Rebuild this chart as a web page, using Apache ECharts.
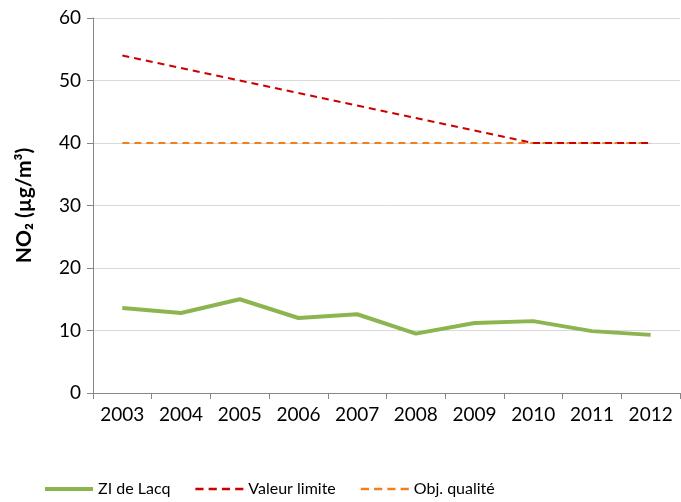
<!DOCTYPE html>
<html>
<head>
<meta charset="utf-8">
<script src="https://cdn.jsdelivr.net/npm/echarts@6/dist/echarts.min.js"></script>
<style>
  html, body { margin: 0; padding: 0; background: #fff; }
  #chart { width: 681px; height: 502px; }
</style>
</head>
<body>
<div id="chart"></div>
<script>
var years = ['2003', '2004', '2005', '2006', '2007', '2008', '2009', '2010', '2011', '2012'];
var lacq = [13.6, 12.8, 15.0, 12.0, 12.6, 9.5, 11.2, 11.5, 9.9, 9.3];
var valeurLimite = [54, 52, 50, 48, 46, 44, 42, 40, 40, 40];
var objQualite = [40, 40, 40, 40, 40, 40, 40, 40, 40, 40];

var font = 'Lato, "Open Sans", sans-serif';
var chart = echarts.init(document.getElementById('chart'));

// legend icons: solid bar and 4 dashes
var solidIcon = 'path://M0,0 L48,0 L48,4 L0,4 Z';
var dashIcon = 'path://M0,0 h8 v2.4 h-8 Z M13,0 h8 v2.4 h-8 Z M26,0 h8 v2.4 h-8 Z M39,0 h8 v2.4 h-8 Z';

var option = {
    animation: false,
    textStyle: { fontFamily: font },
    grid: { left: 93, right: 1, top: 18, bottom: 109, containLabel: false },
    legend: {
        left: 40,
        top: 476,
        itemWidth: 48,
        itemHeight: 10,
        itemGap: 25,
        textStyle: { fontSize: 16, color: '#000', fontFamily: font },
        data: [
            { name: 'ZI de Lacq', icon: solidIcon },
            { name: 'Valeur limite', icon: dashIcon },
            { name: 'Obj. qualité', icon: dashIcon }
        ]
    },
    xAxis: {
        type: 'category',
        data: years,
        boundaryGap: true,
        axisLine: { lineStyle: { color: '#868686' } },
        axisTick: { show: true, length: 6, lineStyle: { color: '#868686' } },
        axisLabel: { color: '#000', fontSize: 19, margin: 12 }
    },
    yAxis: {
        type: 'value',
        min: 0,
        max: 60,
        interval: 10,
        name: 'NO₂ (µg/m³)',
        nameLocation: 'middle',
        nameGap: 58,
        nameTextStyle: { fontSize: 21, fontWeight: 'bold', color: '#000' },
        axisLine: { show: true, lineStyle: { color: '#868686' } },
        axisTick: { show: true, length: 6, lineStyle: { color: '#868686' } },
        axisLabel: { color: '#000', fontSize: 19, margin: 12 },
        splitLine: { lineStyle: { color: '#d9d9d9' } }
    },
    series: [
        {
            name: 'ZI de Lacq',
            type: 'line',
            data: lacq,
            showSymbol: false,
            symbol: 'none',
            itemStyle: { color: '#8db54f' },
            lineStyle: { color: '#8db54f', width: 4 }
        },
        {
            name: 'Valeur limite',
            type: 'line',
            data: valeurLimite,
            showSymbol: false,
            symbol: 'none',
            itemStyle: { color: '#cc0000' },
            lineStyle: { color: '#cc0000', width: 2, type: [7, 5] }
        },
        {
            name: 'Obj. qualité',
            type: 'line',
            data: objQualite,
            showSymbol: false,
            symbol: 'none',
            z: 1,
            itemStyle: { color: '#f07f1e' },
            lineStyle: { color: '#f07f1e', width: 2, type: [7, 5] }
        }
    ]
};

chart.setOption(option);
</script>
</body>
</html>
